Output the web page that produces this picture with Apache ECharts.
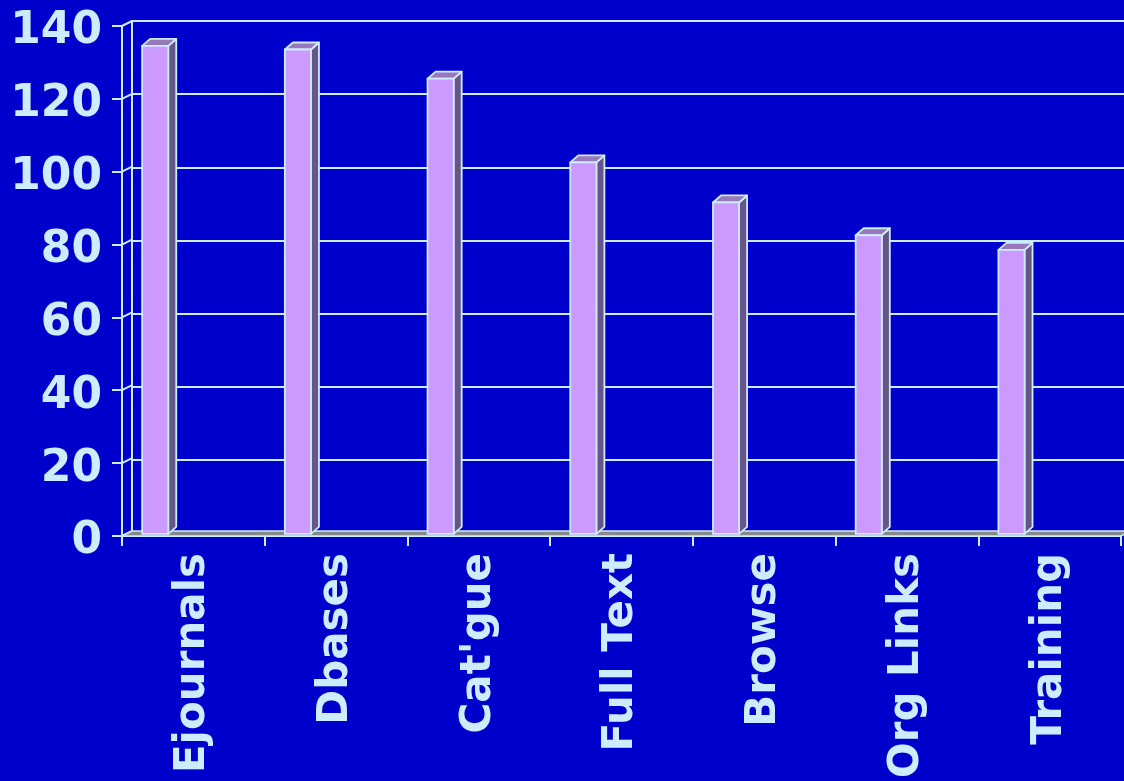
<!DOCTYPE html>
<html>
<head>
<meta charset="utf-8">
<script src="https://cdn.jsdelivr.net/npm/echarts@6/dist/echarts.min.js"></script>
<style>
html,body{margin:0;padding:0;background:#0000CC;}
#chart{width:1124px;height:781px;}
</style>
</head>
<body>
<div id="chart"></div>
<script>
const categories = ["Ejournals", "Dbases", "Cat'gue", "Full Text", "Browse", "Org Links", "Training"];
const values = [134, 133, 125, 102, 91, 82, 78];
const yTicks = [0, 20, 40, 60, 80, 100, 120, 140];

const TXT = '#CCECFF';
const LINE = '#CCECFF';
const FONT = '"DejaVu Sans", Verdana, sans-serif';
const DX = 10, DY = -5;   // back wall offset
const BDX = 8, BDY = -7;  // bar depth

const chart = echarts.init(document.getElementById('chart'), null, {renderer: 'canvas'});

const option = {
  backgroundColor: '#0000CC',
  animation: false,
  grid: [
    {left: 132, top: 21, right: -10, bottom: 248},
    {left: 122, top: 26, right: 3, bottom: 243}
  ],
  xAxis: [
    {gridIndex: 0, type: 'category', data: categories, show: false},
    {gridIndex: 1, type: 'category', data: categories, boundaryGap: true,
      axisLine: {show: true, lineStyle: {color: LINE, width: 2}},
      axisTick: {show: true, inside: false, length: 10, alignWithLabel: false, lineStyle: {color: LINE, width: 2}},
      axisLabel: {interval: 0, rotate: 90, margin: 17, color: TXT, fontSize: 42, fontWeight: 'bold', fontFamily: FONT},
      splitLine: {show: false}
    }
  ],
  yAxis: [
    {gridIndex: 0, type: 'value', min: 0, max: 140, interval: 20,
      axisLine: {show: true, lineStyle: {color: LINE, width: 2}},
      axisTick: {show: false}, axisLabel: {show: false},
      splitLine: {show: true, lineStyle: {color: LINE, width: 2}}
    },
    {gridIndex: 1, type: 'value', min: 0, max: 140, interval: 20,
      axisLine: {show: true, lineStyle: {color: LINE, width: 2}},
      axisTick: {show: true, length: 10, lineStyle: {color: LINE, width: 2}},
      axisLabel: {margin: 20, color: TXT, fontSize: 44, fontWeight: 'bold', fontFamily: FONT,
        formatter: v => '{a|' + v + '}',
        rich: {a: {color: TXT, fontSize: 44, fontWeight: 'bold', fontFamily: FONT, padding: [12, 0, 0, 0]}}
      },
      splitLine: {show: false}
    }
  ],
  series: [
    {
      type: 'custom', xAxisIndex: 1, yAxisIndex: 1, silent: true, z: 1,
      data: yTicks.map(v => [0, v]),
      renderItem: function (params, api) {
        const v = api.value(1);
        const pL = api.coord([0, v]);
        const band = api.size([1, 0])[0];
        const x0 = pL[0] - band / 2;
        const children = [{
          type: 'line',
          shape: {x1: x0, y1: pL[1], x2: x0 + DX, y2: pL[1] + DY},
          style: {stroke: LINE, lineWidth: 2}
        }];
        if (v === 0) {
          const xR = api.coord([categories.length - 1, 0])[0] + band / 2;
          children.unshift({
            type: 'polygon',
            shape: {points: [[x0, pL[1]], [xR, pL[1]], [xR + DX, pL[1] + DY], [x0 + DX, pL[1] + DY]]},
            style: {fill: '#888888', stroke: LINE, lineWidth: 1.5}
          });
        }
        return {type: 'group', children: children};
      }
    },
    {
      type: 'custom', xAxisIndex: 1, yAxisIndex: 1, z: 5,
      data: values.map((v, i) => [i, v]),
      renderItem: function (params, api) {
        const i = api.value(0), v = api.value(1);
        const p0 = api.coord([i, 0]);
        const p1 = api.coord([i, v]);
        const band = api.size([1, 0])[0];
        const left = p0[0] - band / 2 + band * 0.12 + 3;
        const w = band * 0.183;
        const baseY = p0[1] - 2;
        const topY = p1[1] - 2;
        const st = {stroke: LINE, lineWidth: 1.8, lineJoin: 'round'};
        return {
          type: 'group',
          children: [
            {type: 'polygon', shape: {points: [[left + w, topY], [left + w + BDX, topY + BDY], [left + w + BDX, baseY + BDY], [left + w, baseY]]},
              style: Object.assign({fill: '#665588'}, st)},
            {type: 'polygon', shape: {points: [[left, topY], [left + BDX, topY + BDY], [left + w + BDX, topY + BDY], [left + w, topY]]},
              style: Object.assign({fill: '#9977BB'}, st)},
            {type: 'rect', shape: {x: left, y: topY, width: w, height: baseY - topY},
              style: Object.assign({fill: '#CC99FF'}, st)}
          ]
        };
      }
    }
  ]
};
chart.setOption(option);
</script>
</body>
</html>
